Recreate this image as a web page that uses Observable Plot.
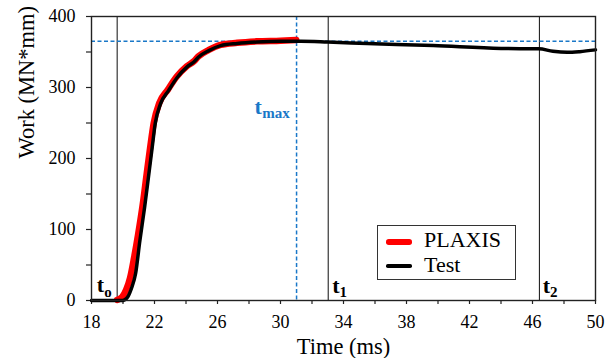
<!DOCTYPE html>
<html>
<head>
<meta charset="utf-8">
<script src="https://cdn.jsdelivr.net/npm/d3@7"></script>
<script src="https://cdn.jsdelivr.net/npm/@observablehq/plot@0.6"></script>
<style>
  body { margin: 0; background: #fff; }
  #wrap { position: relative; width: 613px; height: 358px; font-family: "Liberation Serif", "Times New Roman", serif; }
  #legend { position: absolute; left: 377px; top: 225px; width: 139px; height: 55px; border: 1px solid #333; background: #fff; box-sizing: border-box; }
  .sw { position: absolute; left: 8px; width: 26px; }
  .lt { position: absolute; left: 46px; font-size: 22px; line-height: 1; color: #000; white-space: nowrap; }
</style>
</head>
<body>
<div id="wrap"><div id="legend"></div></div>
<script>
// ---- data ----
const testTime = [18, 19, 19.9, 20.1, 20.3, 20.55, 20.8, 21.07, 21.37, 21.64, 21.85, 22.05, 22.38, 22.9, 23.44, 24.07, 24.5, 24.8, 25.45, 26.2, 27.25, 28.5, 30, 31.3, 33, 35.5, 39.7, 44, 46.4, 47.3, 48.2, 49, 50];
const testWork = [0, 0, 0, 1, 5, 18, 38, 84, 131, 178, 215, 250, 277, 296, 314, 329, 336, 343, 352, 359, 362, 364, 365, 365, 364, 362, 359, 355, 354.5, 351, 349.5, 350.5, 353];

const plaxisTime = [19.63, 19.75, 19.95, 20.2, 20.45, 20.7, 20.95, 21.25, 21.5, 21.72, 21.95, 22.3, 22.85, 23.4, 24.05, 24.5, 24.8, 25.45, 26.2, 27.25, 28.5, 30, 31];
const plaxisWork = [1, 2, 5, 15, 32, 60, 92, 135, 178, 215, 250, 278, 297, 315, 330, 337, 344, 353, 360, 363, 365, 366, 367];

const seriesNames = ["PLAXIS", "Test"];
const seriesColors = ["#ff0000", "#000000"];

const t0 = 19.63, tMax = 31.02, t1 = 33.03, t2 = 46.44;
const workMax = 365;

const xMajorTicks = [18, 22, 26, 30, 34, 38, 42, 46, 50];
const xMinorTicks = [20, 24, 28, 32, 36, 40, 44, 48];
const yMajorTicks = [0, 100, 200, 300, 400];
const yMinorTicks = [50, 150, 250, 350];

const xTitle = "Time (ms)";
const yTitle = "Work (MN*mm)";

// ---- build tables ----
const test = testTime.map((t, i) => ({t, w: testWork[i]}));
const plaxis = plaxisTime.map((t, i) => ({t, w: plaxisWork[i]}));

const blue = "#1a78c8";
const font = "'Liberation Serif', 'Times New Roman', serif";

function tLabel(time, sub, color, dyBase, dxT, subDx) {
  return [
    Plot.text([time], {x: d => d, frameAnchor: "bottom", text: () => "t", dx: dxT, dy: dyBase,
      textAnchor: "start", lineAnchor: "bottom", fontWeight: "bold", fontSize: 22, fill: color, fontFamily: font}),
    Plot.text([time], {x: d => d, frameAnchor: "bottom", text: () => sub, dx: dxT + subDx, dy: dyBase + 4.5,
      textAnchor: "start", lineAnchor: "bottom", fontWeight: "bold", fontSize: 15, fill: color, fontFamily: font})
  ];
}

const chart = Plot.plot({
  width: 613,
  height: 358,
  marginLeft: 91,
  marginRight: 18,
  marginTop: 16,
  marginBottom: 58,
  style: {fontFamily: font, fontSize: "18px", color: "#000", background: "#fff", overflow: "visible"},
  x: {domain: [18, 50]},
  y: {domain: [0, 400]},
  marks: [
    // axes
    Plot.axisX(xMinorTicks, {tickSize: 4, tickFormat: () => "", label: null, stroke: "#222", strokeWidth: 1.2}),
    Plot.axisX(xMajorTicks, {tickSize: 4, tickPadding: 11, label: null, stroke: "#222", strokeWidth: 1.2, fill: "#000", fontSize: 18, fontFamily: font}),
    Plot.axisY(yMinorTicks, {tickSize: 5, tickFormat: () => "", label: null, stroke: "#222", strokeWidth: 1.2}),
    Plot.axisY(yMajorTicks, {tickSize: 5, tickPadding: 11, label: null, stroke: "#222", strokeWidth: 1.2, fill: "#000", fontSize: 18, fontFamily: font}),
    // reference lines
    Plot.ruleX([t0, t1, t2], {stroke: "#222", strokeWidth: 1.1}),
    Plot.ruleY([workMax], {stroke: blue, strokeWidth: 1.5, strokeDasharray: "4,2.5"}),
    Plot.ruleX([tMax], {stroke: blue, strokeWidth: 1.5, strokeDasharray: "4,2.5"}),
    // curves
    Plot.line(plaxis, {x: "t", y: "w", stroke: seriesColors[0], strokeWidth: 6.5, curve: "monotone-x"}),
    Plot.line(test, {x: "t", y: "w", stroke: seriesColors[1], strokeWidth: 3.5, curve: "monotone-x"}),
    // frame
    Plot.frame({stroke: "#222", strokeWidth: 1.4}),
    // t labels
    ...tLabel(t0, "o", "#000", -8.3, -20.3, 7.3),
    ...tLabel(t1, "1", "#000", -8, 4, 7.3),
    ...tLabel(t2, "2", "#000", -8, 3.3, 7.3),
    ...tLabel(tMax, "max", blue, -187, -42, 7.7),
    // axis titles
    Plot.text([xTitle], {frameAnchor: "bottom", text: d => d, dy: 53, lineAnchor: "bottom", fontSize: 22.5, fill: "#000", fontFamily: font}),
    Plot.text([yTitle], {frameAnchor: "left", text: d => d, dx: -65, rotate: -90, lineAnchor: "middle", fontSize: 22.5, fill: "#000", fontFamily: font})
  ]
});

document.getElementById("wrap").prepend(chart);

// legend
const legend = document.getElementById("legend");
const swTops = [15.8, 40], swH = [5.5, 3.5], txtTops = [3.3, 28.3];
seriesNames.forEach((name, i) => {
  const sw = document.createElement("div");
  sw.className = "sw";
  sw.style.top = (swTops[i] - swH[i] / 2) + "px";
  sw.style.height = swH[i] + "px";
  sw.style.background = seriesColors[i];
  sw.style.borderRadius = (swH[i] / 2) + "px";
  legend.appendChild(sw);
  const tx = document.createElement("div");
  tx.className = "lt";
  tx.style.top = txtTops[i] + "px";
  tx.textContent = name;
  legend.appendChild(tx);
});
</script>
</body>
</html>
